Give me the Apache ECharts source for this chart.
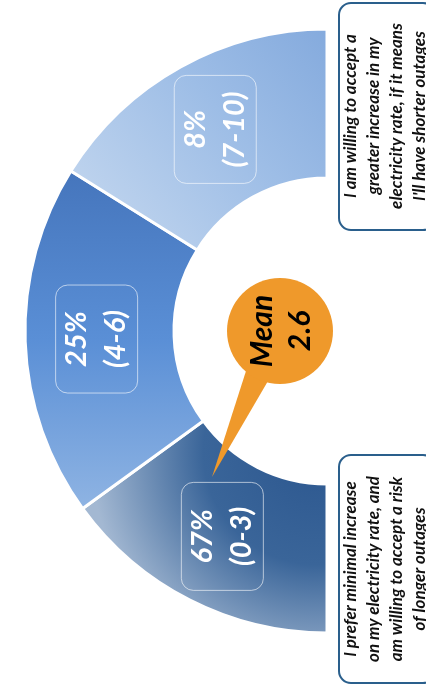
<!DOCTYPE html>
<html>
<head>
<meta charset="utf-8">
<script src="https://cdn.jsdelivr.net/npm/echarts@6/dist/echarts.min.js"></script>
<style>
  html, body { margin: 0; padding: 0; background: #fff; }
  #chart { width: 426px; height: 693px; }
</style>
</head>
<body>
<div id="chart"></div>
<script>
// 数据
var shares = ['67%', '25%', '8%'];
var ranges = ['(0-3)', '(4-6)', '(7-10)'];
// the slices are not drawn in proportion to the shares, so keep the arc measured off the picture (degrees)
var arcDegrees = [54, 68, 58];
var meanValue = 2.6;
var lowNote = ['I prefer minimal increase', 'on my electricity rate, and', 'am willing to accept a risk', 'of longer outages'];
var highNote = ['I am willing to accept a', 'greater increase in my', 'electricity rate, if it means', "I'll have shorter outages"];

var FONT = 'Lato, "Open Sans", sans-serif';

var sliceColors = [
  new echarts.graphic.RadialGradient(0.95, 0.15, 1.05, [
    { offset: 0, color: '#2c578f' },
    { offset: 0.5, color: '#3a6599' },
    { offset: 1, color: '#a3b8d2' }
  ]),
  new echarts.graphic.LinearGradient(0, 0, 0, 1, [
    { offset: 0, color: '#4575bc' },
    { offset: 0.5, color: '#5a8fd6' },
    { offset: 1, color: '#8fb4e3' }
  ]),
  new echarts.graphic.LinearGradient(0, 1, 1, 0, [
    { offset: 0, color: '#c8daf0' },
    { offset: 0.6, color: '#9dbde6' },
    { offset: 1, color: '#84aadd' }
  ])
];

var pieData = arcDegrees.map(function (v, i) {
  return { value: v, name: ranges[i], itemStyle: { color: sliceColors[i] } };
});
// empty right half
var rest = 360 - arcDegrees.reduce(function (a, b) { return a + b; }, 0);
pieData.push({
  value: rest, name: '',
  itemStyle: { color: 'rgba(0,0,0,0)', borderWidth: 0 },
  label: { show: false }
});

function note(lines, cx, cy) {
  return {
    type: 'text', x: cx, y: cy, rotation: Math.PI / 2, z: 10,
    style: {
      text: lines.join('\n'), fill: '#111',
      font: 'italic bold 17px ' + FONT, lineHeight: 23,
      align: 'center', verticalAlign: 'middle'
    }
  };
}

var myChart = echarts.init(document.getElementById('chart'));

var option = {
  animation: false,
  series: [
    {
      type: 'pie',
      silent: true,
      center: [327, 331],
      radius: [153, 302],
      startAngle: 270,
      clockwise: true,
      avoidLabelOverlap: false,
      itemStyle: { borderColor: '#fff', borderWidth: 3 },
      label: {
        show: true,
        position: 'inside',
        rotate: 90,
        formatter: function (p) {
          return shares[p.dataIndex] + '\n' + ranges[p.dataIndex];
        },
        color: '#fff',
        fontFamily: FONT,
        fontWeight: 'bold',
        fontStyle: 'italic',
        fontSize: 29,
        lineHeight: 39,
        width: 96,
        align: 'center',
        padding: [2, 6],
        borderColor: 'rgba(255,255,255,0.6)',
        borderWidth: 1,
        borderRadius: 12
      },
      labelLine: { show: false },
      data: pieData
    }
  ],
  graphic: [
    // mean bubble
    {
      type: 'polygon', z: 5,
      shape: { points: [[246, 371], [268, 381], [212, 477]] },
      style: { fill: '#ef992b' }
    },
    {
      type: 'circle', z: 5,
      shape: { cx: 280, cy: 331, r: 53 },
      style: { fill: '#ef992b' }
    },
    {
      type: 'text', x: 281, y: 331, rotation: Math.PI / 2, z: 6,
      style: {
        text: 'Mean\n' + meanValue, fill: '#000',
        font: 'italic bold 30px ' + FONT, lineHeight: 38,
        align: 'center', verticalAlign: 'middle'
      }
    },
    // side notes
    {
      type: 'rect', z: 4,
      shape: { x: 339, y: 3, width: 96, height: 227, r: 12 },
      style: { fill: '#fff', stroke: '#2a5f8c', lineWidth: 2 }
    },
    note(highNote, 385, 116),
    {
      type: 'rect', z: 4,
      shape: { x: 339, y: 455, width: 96, height: 228, r: 12 },
      style: { fill: '#fff', stroke: '#2a5f8c', lineWidth: 2 }
    },
    note(lowNote, 385, 569)
  ]
};

myChart.setOption(option);
</script>
</body>
</html>
